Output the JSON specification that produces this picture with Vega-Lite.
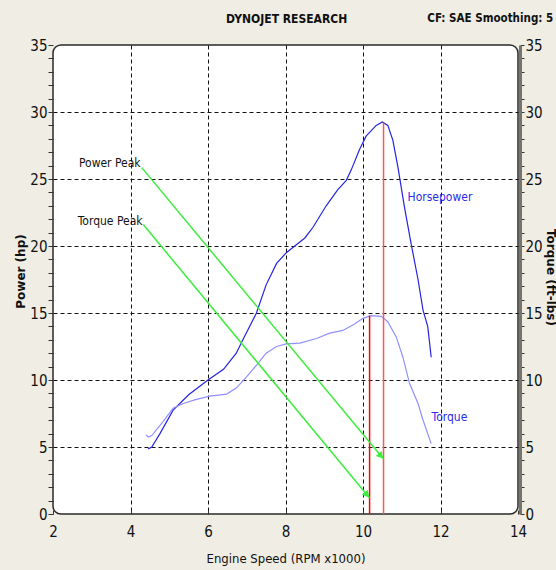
{
  "$schema": "https://vega.github.io/schema/vega-lite/v6.json",
  "width": 465,
  "height": 469,
  "autosize": {"type": "none"},
  "padding": {"left": 53, "top": 45, "right": 38, "bottom": 56},
  "background": "#efede4",
  "config": {
    "view": {"fill": "white", "stroke": "#2a2a2a", "strokeWidth": 1.5, "cornerRadius": 8},
    "axis": {
      "labelFont": "DejaVu Sans Condensed, sans-serif",
      "labelFontSize": 15,
      "labelColor": "#111111",
      "tickColor": "#333333",
      "labelOverlap": false,
      "labelFlush": false
    }
  },
  "datasets": {
    "curves": [
      {"series": "Horsepower", "rpm": 4.45, "value": 4.85},
      {"series": "Horsepower", "rpm": 4.55, "value": 5.0},
      {"series": "Horsepower", "rpm": 4.76, "value": 6.0},
      {"series": "Horsepower", "rpm": 5.1, "value": 7.75},
      {"series": "Horsepower", "rpm": 5.5, "value": 8.9},
      {"series": "Horsepower", "rpm": 6.0, "value": 10.0},
      {"series": "Horsepower", "rpm": 6.4, "value": 10.8},
      {"series": "Horsepower", "rpm": 6.73, "value": 12.0},
      {"series": "Horsepower", "rpm": 6.9, "value": 13.0},
      {"series": "Horsepower", "rpm": 7.25, "value": 15.0},
      {"series": "Horsepower", "rpm": 7.5, "value": 17.1},
      {"series": "Horsepower", "rpm": 7.77, "value": 18.7},
      {"series": "Horsepower", "rpm": 8.02, "value": 19.5},
      {"series": "Horsepower", "rpm": 8.28, "value": 20.1},
      {"series": "Horsepower", "rpm": 8.5, "value": 20.6},
      {"series": "Horsepower", "rpm": 8.71, "value": 21.4},
      {"series": "Horsepower", "rpm": 9.05, "value": 23.0},
      {"series": "Horsepower", "rpm": 9.35, "value": 24.2},
      {"series": "Horsepower", "rpm": 9.57, "value": 24.9},
      {"series": "Horsepower", "rpm": 9.7, "value": 25.7},
      {"series": "Horsepower", "rpm": 9.91, "value": 27.2},
      {"series": "Horsepower", "rpm": 10.08, "value": 28.2},
      {"series": "Horsepower", "rpm": 10.34, "value": 29.0},
      {"series": "Horsepower", "rpm": 10.5, "value": 29.25},
      {"series": "Horsepower", "rpm": 10.64, "value": 29.0},
      {"series": "Horsepower", "rpm": 10.77, "value": 27.9},
      {"series": "Horsepower", "rpm": 10.9, "value": 25.9},
      {"series": "Horsepower", "rpm": 11.07, "value": 22.9},
      {"series": "Horsepower", "rpm": 11.24, "value": 20.2},
      {"series": "Horsepower", "rpm": 11.42, "value": 17.5},
      {"series": "Horsepower", "rpm": 11.55, "value": 15.2},
      {"series": "Horsepower", "rpm": 11.67, "value": 14.0},
      {"series": "Horsepower", "rpm": 11.76, "value": 11.7},
      {"series": "Torque", "rpm": 4.4, "value": 5.9},
      {"series": "Torque", "rpm": 4.47, "value": 5.75},
      {"series": "Torque", "rpm": 4.55, "value": 5.85},
      {"series": "Torque", "rpm": 4.84, "value": 6.9},
      {"series": "Torque", "rpm": 5.1, "value": 7.9},
      {"series": "Torque", "rpm": 5.36, "value": 8.25},
      {"series": "Torque", "rpm": 5.7, "value": 8.55},
      {"series": "Torque", "rpm": 6.05, "value": 8.8},
      {"series": "Torque", "rpm": 6.48, "value": 8.95},
      {"series": "Torque", "rpm": 6.73, "value": 9.4},
      {"series": "Torque", "rpm": 7.0, "value": 10.25},
      {"series": "Torque", "rpm": 7.25, "value": 11.1},
      {"series": "Torque", "rpm": 7.5, "value": 12.0},
      {"series": "Torque", "rpm": 7.77, "value": 12.5},
      {"series": "Torque", "rpm": 8.02, "value": 12.7},
      {"series": "Torque", "rpm": 8.37, "value": 12.75},
      {"series": "Torque", "rpm": 8.8, "value": 13.1},
      {"series": "Torque", "rpm": 9.14, "value": 13.5},
      {"series": "Torque", "rpm": 9.48, "value": 13.7},
      {"series": "Torque", "rpm": 9.74, "value": 14.1},
      {"series": "Torque", "rpm": 10.0, "value": 14.6},
      {"series": "Torque", "rpm": 10.2, "value": 14.8},
      {"series": "Torque", "rpm": 10.47, "value": 14.75},
      {"series": "Torque", "rpm": 10.64, "value": 14.35},
      {"series": "Torque", "rpm": 10.86, "value": 13.2},
      {"series": "Torque", "rpm": 11.03, "value": 11.7},
      {"series": "Torque", "rpm": 11.2, "value": 9.75},
      {"series": "Torque", "rpm": 11.42, "value": 8.25},
      {"series": "Torque", "rpm": 11.55, "value": 7.0},
      {"series": "Torque", "rpm": 11.67, "value": 6.0},
      {"series": "Torque", "rpm": 11.76, "value": 5.25}
    ],
    "peaks": [
      {"peak": "Torque", "rpm": 10.17, "value": 14.8},
      {"peak": "Power", "rpm": 10.53, "value": 29.2}
    ],
    "arrows": [
      {"arrow": "Power", "rpm": 4.29, "value": 25.85},
      {"arrow": "Power", "rpm": 10.53, "value": 4.1},
      {"arrow": "Torque", "rpm": 4.33, "value": 21.6},
      {"arrow": "Torque", "rpm": 10.17, "value": 1.2}
    ],
    "heads": [
      {"arrow": "Power", "rpm": 10.463, "value": 4.33},
      {"arrow": "Torque", "rpm": 10.103, "value": 1.43}
    ],
    "peakLabels": [
      {"label": "Power Peak", "rpm": 4.26, "value": 26.2},
      {"label": "Torque Peak", "rpm": 4.31, "value": 21.9}
    ],
    "seriesLabels": [
      {"label": "Horsepower", "rpm": 11.15, "value": 23.65},
      {"label": "Torque", "rpm": 11.77, "value": 7.26}
    ],
    "header": [
      {"label": "DYNOJET RESEARCH", "rpm": 8.03, "align": "center"},
      {"label": "CF: SAE  Smoothing: 5", "rpm": 11.66, "align": "left"}
    ]
  },
  "layer": [
    {
      "data": {"name": "curves"},
      "mark": {"type": "line", "strokeWidth": 1.2},
      "encoding": {
        "x": {
          "field": "rpm",
          "type": "quantitative",
          "scale": {"domain": [2, 14], "nice": false, "zero": false},
          "axis": {
            "title": "Engine Speed (RPM x1000)",
            "titleFont": "DejaVu Sans Condensed, sans-serif",
            "titleFontSize": 13,
            "titleFontWeight": "normal",
            "titleColor": "#111111",
            "titleBaseline": "middle",
            "titleY": 44,
            "values": [2, 2.5, 3, 3.5, 4, 4.5, 5, 5.5, 6, 6.5, 7, 7.5, 8, 8.5, 9, 9.5, 10, 10.5, 11, 11.5, 12, 12.5, 13, 13.5, 14],
            "labelExpr": "datum.value % 2 === 0 ? datum.label : ''",
            "tickSize": -4,
            "labelPadding": 21,
            "labelBaseline": "middle",
            "domain": false,
            "grid": true,
            "gridDash": [4, 3],
            "gridColor": "#111111",
            "gridOpacity": {"condition": {"test": "datum.value % 2 === 0 && datum.value > 2 && datum.value < 14", "value": 1}, "value": 0}
          }
        },
        "y": {
          "field": "value",
          "type": "quantitative",
          "scale": {"domain": [0, 35], "nice": false},
          "axis": {
            "orient": "left",
            "title": "Power (hp)",
            "titleFont": "DejaVu Sans",
            "titleFontSize": 12,
            "titleFontWeight": "bold",
            "titleColor": "#111111",
            "titleAlign": "center",
            "titleBaseline": "middle",
            "titleX": -33,
            "titleY": 226,
            "values": [0, 1, 2, 3, 4, 5, 6, 7, 8, 9, 10, 11, 12, 13, 14, 15, 16, 17, 18, 19, 20, 21, 22, 23, 24, 25, 26, 27, 28, 29, 30, 31, 32, 33, 34, 35],
            "labelExpr": "datum.value % 5 === 0 ? datum.label : ''",
            "tickSize": 5,
            "labelPadding": 1,
            "domain": false,
            "grid": true,
            "gridDash": [4, 3],
            "gridColor": "#111111",
            "gridOpacity": {"condition": {"test": "datum.value % 5 === 0 && datum.value > 0 && datum.value < 35", "value": 1}, "value": 0}
          }
        },
        "color": {
          "field": "series",
          "type": "nominal",
          "scale": {"domain": ["Horsepower", "Torque"], "range": ["#2424e0", "#9090ff"]},
          "legend": null
        }
      }
    },
    {
      "data": {"name": "peaks"},
      "transform": [{"filter": "datum.peak === 'Torque'"}],
      "mark": {"type": "rule", "strokeWidth": 1.5, "color": "#ff0000"},
      "encoding": {
        "x": {"field": "rpm", "type": "quantitative", "scale": {"domain": [2, 14], "nice": false, "zero": false}},
        "y": {
          "field": "value",
          "type": "quantitative",
          "scale": {"domain": [0, 35], "nice": false},
          "axis": {
            "orient": "right",
            "title": "Torque (ft-lbs)",
            "titleFont": "DejaVu Sans",
            "titleFontSize": 12,
            "titleFontWeight": "bold",
            "titleColor": "#111111",
            "titleAngle": 90,
            "titleAlign": "center",
            "titleBaseline": "middle",
            "titleX": 30,
            "titleY": 232,
            "values": [0, 1, 2, 3, 4, 5, 6, 7, 8, 9, 10, 11, 12, 13, 14, 15, 16, 17, 18, 19, 20, 21, 22, 23, 24, 25, 26, 27, 28, 29, 30, 31, 32, 33, 34, 35],
            "labelExpr": "datum.value % 5 === 0 ? datum.label : ''",
            "tickSize": 4,
            "labelPadding": 1,
            "offset": 2,
            "domain": true,
            "domainColor": "#77756a",
            "domainWidth": 3,
            "grid": false
          }
        },
        "y2": {"datum": 0}
      }
    },
    {
      "data": {"name": "peaks"},
      "transform": [{"filter": "datum.peak === 'Power'"}],
      "mark": {"type": "rule", "strokeWidth": 1.5, "color": "#ff5555"},
      "encoding": {
        "x": {"field": "rpm", "type": "quantitative", "scale": {"domain": [2, 14], "nice": false, "zero": false}},
        "y": {"field": "value", "type": "quantitative", "scale": {"domain": [0, 35], "nice": false}, "axis": null},
        "y2": {"datum": 0}
      }
    },
    {
      "data": {"name": "arrows"},
      "mark": {"type": "line", "color": "#3cee3c", "strokeWidth": 1.5},
      "encoding": {
        "x": {"field": "rpm", "type": "quantitative", "scale": {"domain": [2, 14], "nice": false, "zero": false}},
        "y": {"field": "value", "type": "quantitative", "scale": {"domain": [0, 35], "nice": false}, "axis": null},
        "detail": {"field": "arrow", "type": "nominal"}
      }
    },
    {
      "data": {"name": "heads"},
      "mark": {"type": "point", "shape": "triangle-down", "angle": 320, "size": 60, "filled": true, "opacity": 1, "color": "#3cee3c"},
      "encoding": {
        "x": {"field": "rpm", "type": "quantitative", "scale": {"domain": [2, 14], "nice": false, "zero": false}},
        "y": {"field": "value", "type": "quantitative", "scale": {"domain": [0, 35], "nice": false}, "axis": null}
      }
    },
    {
      "data": {"name": "peakLabels"},
      "mark": {"type": "text", "align": "right", "baseline": "middle", "font": "DejaVu Sans Condensed, sans-serif", "fontSize": 12, "color": "#111111"},
      "encoding": {
        "x": {"field": "rpm", "type": "quantitative", "scale": {"domain": [2, 14], "nice": false, "zero": false}},
        "y": {"field": "value", "type": "quantitative", "scale": {"domain": [0, 35], "nice": false}, "axis": null},
        "text": {"field": "label"}
      }
    },
    {
      "data": {"name": "seriesLabels"},
      "mark": {"type": "text", "align": "left", "baseline": "middle", "font": "DejaVu Sans Condensed, sans-serif", "fontSize": 12, "color": "#2b2be8"},
      "encoding": {
        "x": {"field": "rpm", "type": "quantitative", "scale": {"domain": [2, 14], "nice": false, "zero": false}},
        "y": {"field": "value", "type": "quantitative", "scale": {"domain": [0, 35], "nice": false}, "axis": null},
        "text": {"field": "label"}
      }
    },
    {
      "data": {"name": "header"},
      "transform": [{"filter": "datum.align === 'center'"}],
      "mark": {"type": "text", "align": "center", "baseline": "middle", "dy": -26, "font": "DejaVu Sans Condensed, sans-serif", "fontSize": 12, "fontWeight": "bold", "color": "#111111"},
      "encoding": {
        "x": {"field": "rpm", "type": "quantitative", "scale": {"domain": [2, 14], "nice": false, "zero": false}},
        "y": {"datum": 35, "type": "quantitative", "scale": {"domain": [0, 35], "nice": false}, "axis": null},
        "text": {"field": "label"}
      }
    },
    {
      "data": {"name": "header"},
      "transform": [{"filter": "datum.align === 'left'"}],
      "mark": {"type": "text", "align": "left", "baseline": "middle", "dy": -26, "font": "DejaVu Sans Condensed, sans-serif", "fontSize": 11.5, "fontWeight": "bold", "color": "#111111"},
      "encoding": {
        "x": {"field": "rpm", "type": "quantitative", "scale": {"domain": [2, 14], "nice": false, "zero": false}},
        "y": {"datum": 35, "type": "quantitative", "scale": {"domain": [0, 35], "nice": false}, "axis": null},
        "text": {"field": "label"}
      }
    }
  ],
  "resolve": {"axis": {"y": "independent"}}
}
